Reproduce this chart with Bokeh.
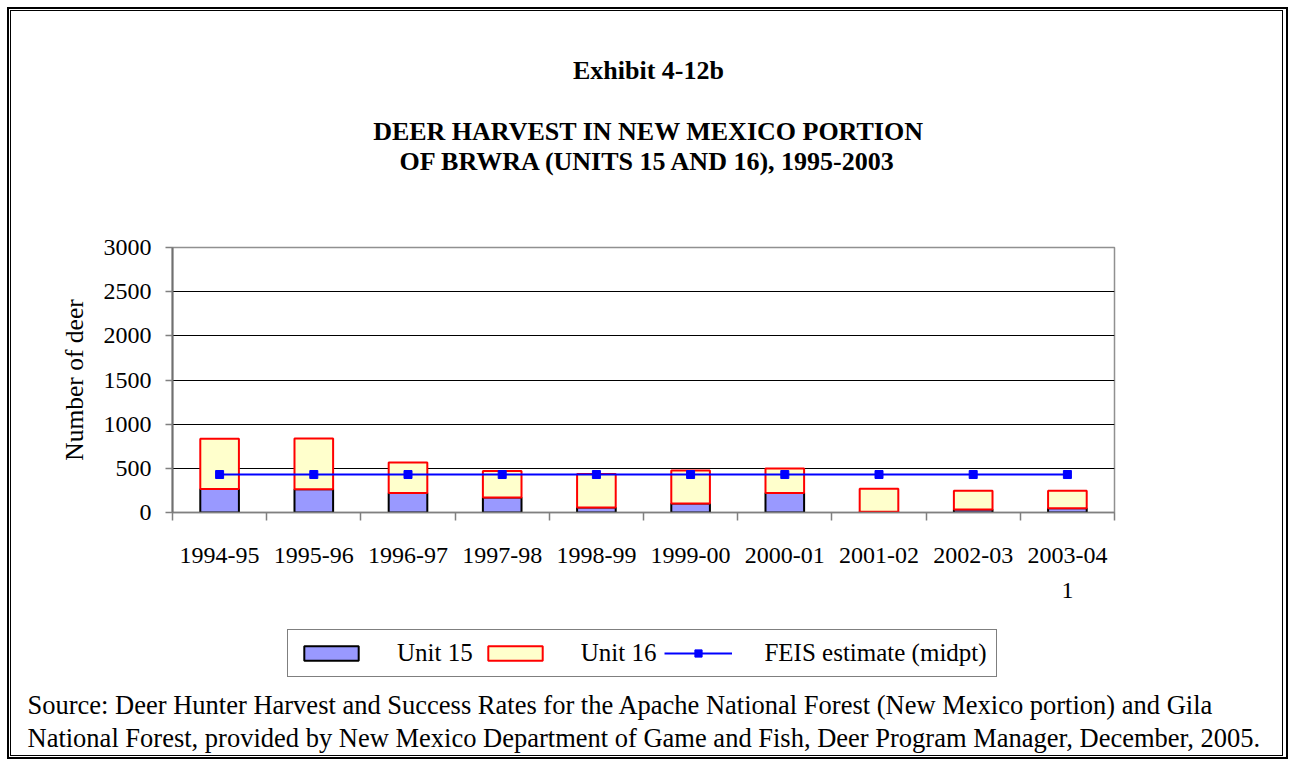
import numpy as np
from bokeh.plotting import figure
from bokeh.layouts import column
from bokeh.models import FixedTicker, Legend, LegendItem, Range1d, Label, Title
from bokeh.embed import file_html
from bokeh.resources import INLINE

# ---------------- data ----------------
seasons = ["1994-95", "1995-96", "1996-97", "1997-98", "1998-99",
           "1999-00", "2000-01", "2001-02", "2002-03", "2003-04"]
unit15 = [266, 262, 221, 171, 57, 103, 221, 8, 34, 49]
unit16 = [570, 576, 346, 300, 380, 372, 277, 262, 213, 198]
feis = [430, 430, 430, 430, 430, 430, 430, 430, 430, 430]
y_ticks = [0, 500, 1000, 1500, 2000, 2500, 3000]

title_lines = ["Exhibit 4-12b",
               "DEER HARVEST IN NEW MEXICO PORTION",
               "OF BRWRA (UNITS 15 AND 16), 1995-2003"]
source_lines = ["Source: Deer Hunter Harvest and Success Rates for the Apache National Forest (New Mexico portion) and Gila",
                "National Forest, provided by New Mexico Department of Game and Fish, Deer Program Manager, December, 2005."]
last_tick_note = "1"
series_names = ["Unit 15", "Unit 16", "FEIS estimate (midpt)"]

# ---------------- layout constants ----------------
FONT = "Liberation Serif"
FL, FR, FW = 172, 175, 942          # shared left border / frame width / right border
H_TOP = 227                          # header strip height
FT, FH, FBOT = 20, 265, 96           # main chart: top border, frame, bottom border
FOOT_FH, FOOT_B = 81, 70             # footer: frame height, bottom border (source note)
C15 = dict(fill_color="#9999FF", line_color="black", line_width=2)
C16 = dict(fill_color="#FFFFCC", line_color="#FF0000", line_width=2)
CFE = dict(line_color="#0000FF", line_width=2)
CFM = dict(marker="square", size=8, fill_color="#0000FF", line_color="#0000FF")


def strip(frame_h, bottom=0, x_range=(0, 1), y_range=(0, 1)):
    f = figure(frame_width=FW, frame_height=frame_h,
               min_border_left=FL, min_border_right=FR,
               min_border_top=0, min_border_bottom=bottom,
               x_range=Range1d(*x_range), y_range=Range1d(*y_range),
               x_axis_location=None, y_axis_location=None,
               output_backend="svg", toolbar_location=None, title=None,
               background_fill_color=None, border_fill_color=None,
               outline_line_color=None)
    f.grid.visible = False
    return f


# ---------------- header: titles ----------------
header = strip(H_TOP)
for txt, base in zip(title_lines, [70, 131, 161]):
    header.add_layout(Label(x=648 - FL, y=H_TOP - base, x_units="screen", y_units="screen",
                            text=txt, text_align="center", text_baseline="alphabetic",
                            text_font=FONT, text_font_size="26px", text_font_style="bold",
                            text_color="black"))

# ---------------- main chart ----------------
x = np.arange(1, len(seasons) + 1)
u15 = np.array(unit15)
u16 = np.array(unit16)

p = figure(frame_width=FW, frame_height=FH,
           min_border_left=FL, min_border_right=FR,
           min_border_top=FT, min_border_bottom=FBOT,
           x_range=Range1d(0.5, len(seasons) + 0.5), y_range=Range1d(0, 3000),
           output_backend="svg", toolbar_location=None, title=None,
           background_fill_color="white", border_fill_color=None)

p.vbar(x=x, bottom=0, top=u15, width=0.41, **C15)
p.vbar(x=x, bottom=u15, top=u15 + u16, width=0.41, **C16)
p.line(x, feis, **CFE)
p.scatter(x, feis, **CFM)

labels = list(seasons)
labels[-1] = labels[-1] + "\n" + last_tick_note
xa = p.xaxis[0]
xa.ticker = FixedTicker(ticks=[int(v) for v in x],
                        minor_ticks=[float(v) + 0.5 for v in range(0, len(seasons) + 1)])
xa.major_label_overrides = {int(v): s for v, s in zip(x, labels)}
xa.major_tick_out = 0
xa.major_tick_in = 0
xa.minor_tick_out = 8
xa.minor_tick_in = 0
xa.minor_tick_line_color = "#808080"
xa.minor_tick_line_width = 1.5
xa.axis_line_color = "#808080"
xa.axis_line_width = 1.5
xa.major_label_standoff = 21
xa.major_label_text_font = FONT
xa.major_label_text_font_size = "24px"
xa.major_label_text_line_height = 1.35
xa.major_label_text_color = "black"

ya = p.yaxis[0]
ya.ticker = FixedTicker(ticks=y_ticks)
ya.axis_label = "Number of deer"
ya.axis_label_text_font = FONT
ya.axis_label_text_font_size = "25.5px"
ya.axis_label_text_font_style = "normal"
ya.axis_label_text_color = "black"
ya.axis_label_standoff = 12
ya.major_tick_out = 7
ya.major_tick_in = 0
ya.minor_tick_out = 0
ya.minor_tick_in = 0
ya.major_tick_line_color = "#808080"
ya.major_tick_line_width = 1.5
ya.axis_line_color = "#707070"
ya.axis_line_width = 2
ya.major_label_standoff = 14
ya.major_label_text_font = FONT
ya.major_label_text_font_size = "24px"
ya.major_label_text_color = "black"

p.xgrid.visible = False
p.ygrid.ticker = FixedTicker(ticks=y_ticks[1:-1])
p.ygrid.grid_line_color = "black"
p.ygrid.grid_line_width = 1
p.outline_line_color = "#909090"
p.outline_line_width = 1.5

# ---------------- footer: legend + source ----------------
# legend proxies: same styles and data, squeezed into a tiny spot hidden under the legend box
footer = strip(FOOT_FH, bottom=FOOT_B, x_range=(-300, 300), y_range=(-2000, 4000))
g15 = footer.vbar(x=x, bottom=0, top=u15, width=0.41, **C15)
g16 = footer.vbar(x=x, bottom=u15, top=u15 + u16, width=0.41, **C16)
gl = footer.line(x, feis, **CFE)
gm = footer.scatter(x, feis, **CFM)
legend = Legend(items=[LegendItem(label=series_names[0], renderers=[g15]),
                       LegendItem(label=series_names[1], renderers=[g16]),
                       LegendItem(label=series_names[2], renderers=[gl, gm])],
                orientation="horizontal", location=(287 - FL, 12), margin=0,
                glyph_width=68, glyph_height=18, label_standoff=32, spacing=8,
                padding=9, border_line_color="black", border_line_width=1,
                background_fill_color="white", background_fill_alpha=1,
                label_text_font=FONT, label_text_font_size="25px",
                label_text_color="black")
footer.add_layout(legend)
footer.add_layout(Title(text="\n".join(source_lines), align="left", offset=27 - FL,
                        vertical_align="top", standoff=0,
                        text_font=FONT, text_font_size="26.5px", text_font_style="normal",
                        text_line_height=1.12, text_color="black"), "below")

# ---------------- page with double frame ----------------
layout = column(header, p, footer, spacing=0)
lines = [  # (x, y, w, h) of the double rule around the exhibit
    (7, 7, 2, 752), (7, 7, 1281, 2), (1286, 7, 2, 752), (7, 757, 1281, 2),
    (10, 10, 1, 746), (10, 10, 1273, 1), (1282, 10, 1, 746), (10, 755, 1273, 1),
]
layout.styles = {
    "background-color": "white",
    "background-image": ", ".join(["linear-gradient(#000, #000)"] * len(lines)),
    "background-size": ", ".join(f"{w}px {h}px" for _, _, w, h in lines),
    "background-position": ", ".join(f"{lx}px {ly}px" for lx, ly, _, _ in lines),
    "background-repeat": "no-repeat",
}

open("out.html", "w").write(file_html(layout, INLINE))
